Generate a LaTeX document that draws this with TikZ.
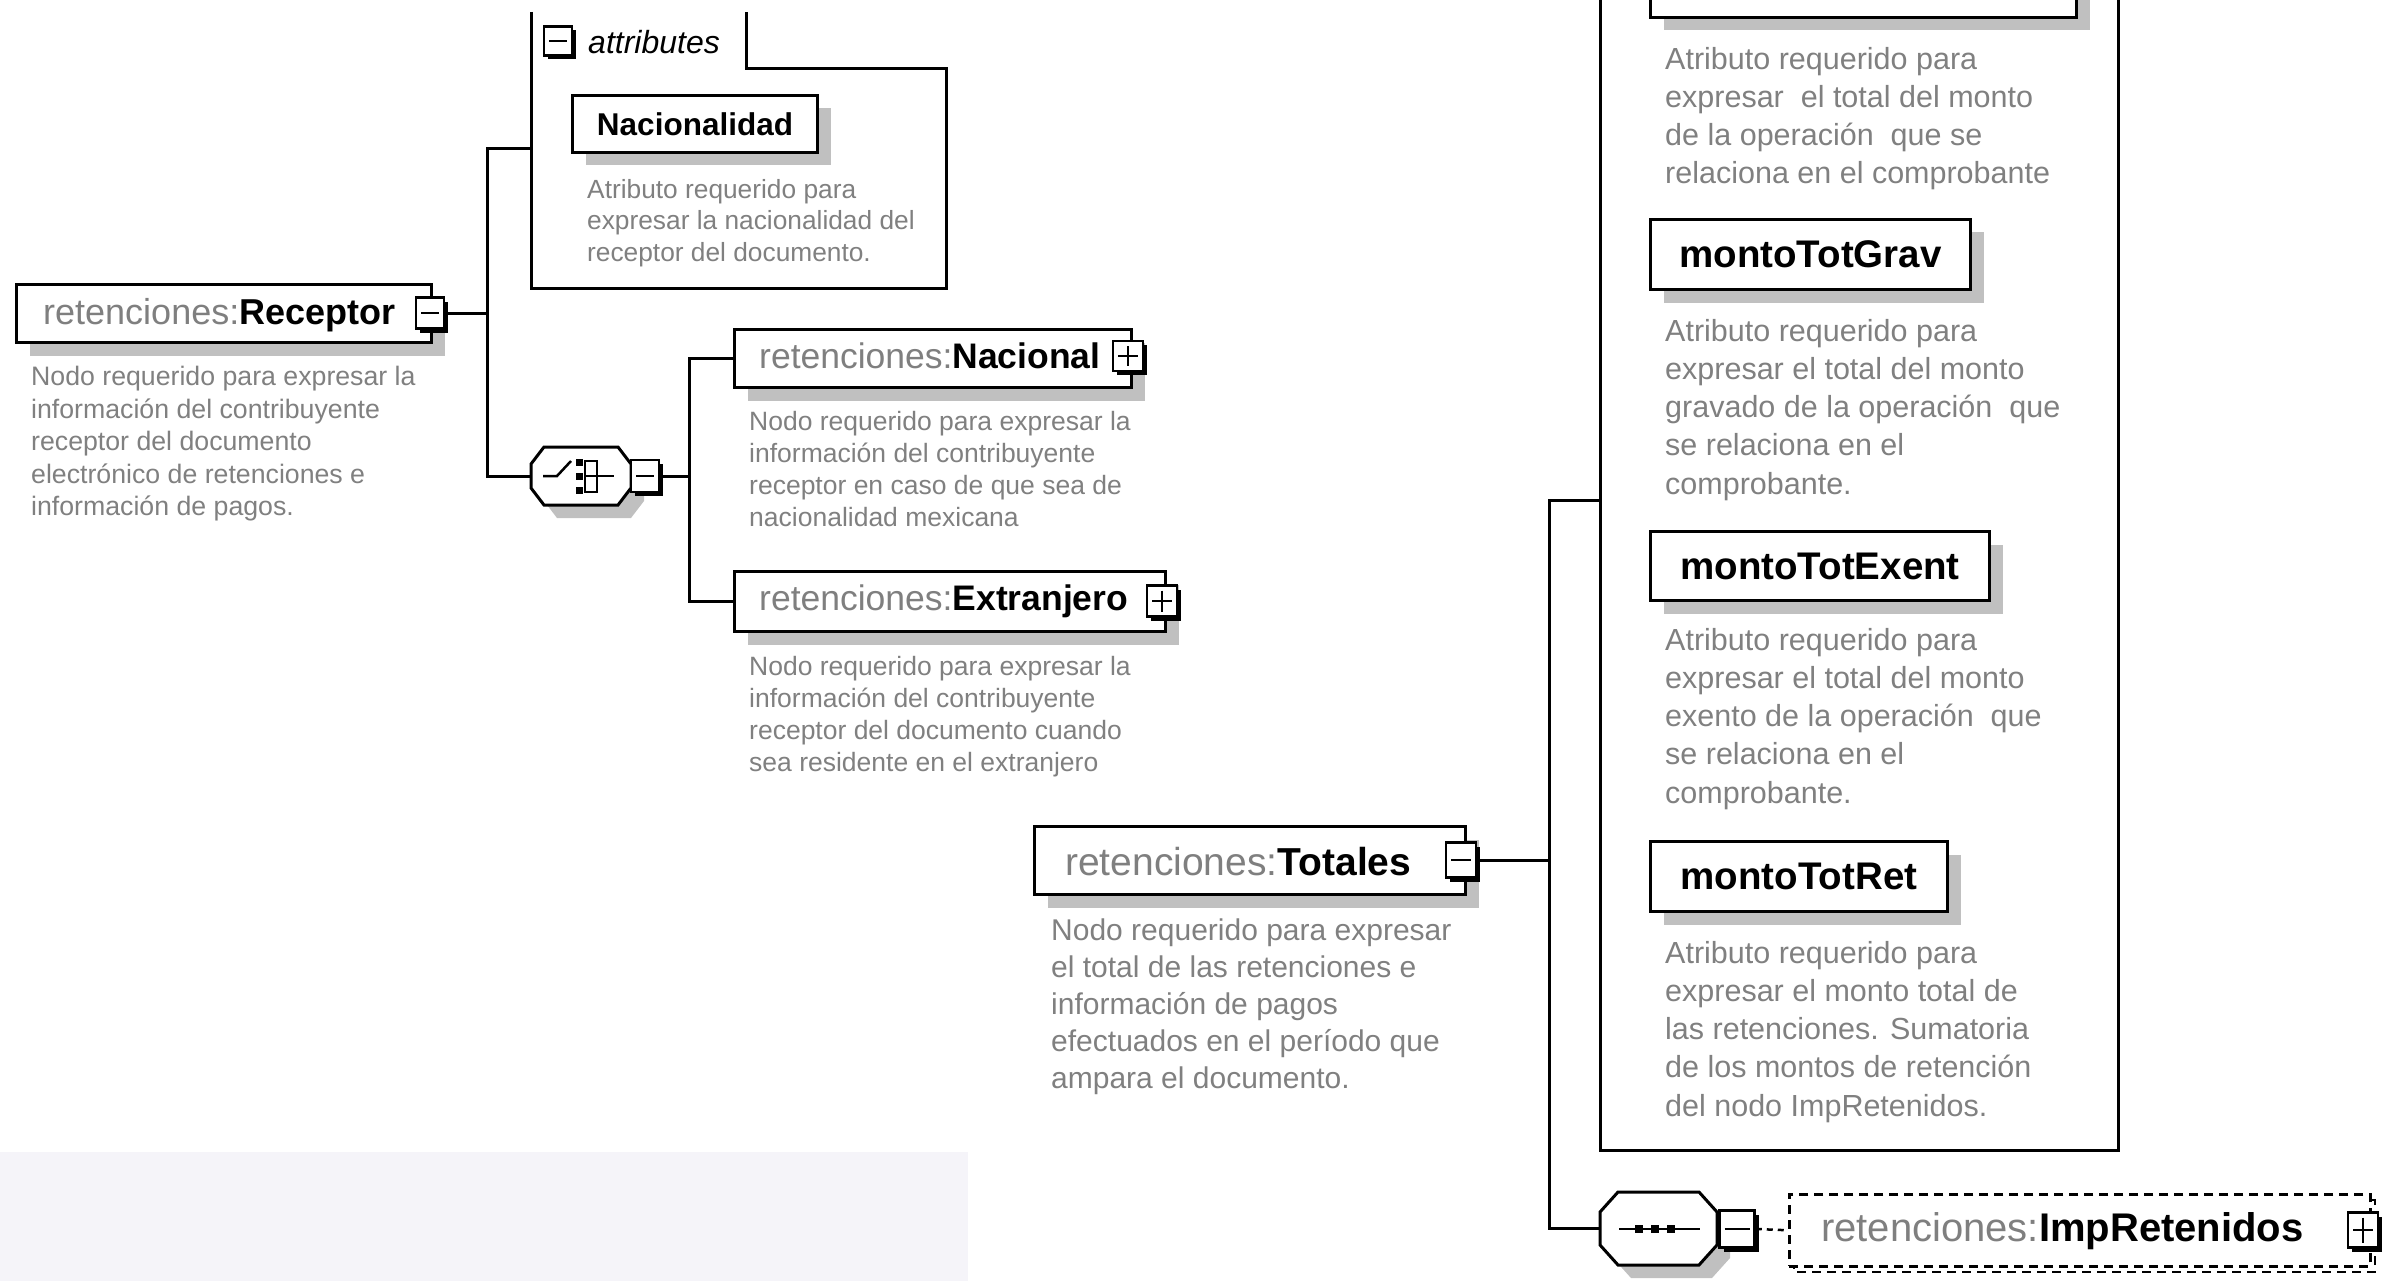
\documentclass[tikz,border=0pt]{standalone}
\usepackage{fontspec}
\setmainfont{Liberation Sans}
\usetikzlibrary{shadows,calc}
\definecolor{descgray}{HTML}{808080}
\definecolor{nsgray}{HTML}{7F7F7F}
\definecolor{shadowgray}{HTML}{C0C0C0}
\definecolor{panelgray}{HTML}{F5F4F9}
\newcommand{\fs}[2]{\fontsize{#1pt}{#2pt}\selectfont}
\newcommand{\nsp}{\textcolor{nsgray}{retenciones:}}
\newcommand{\octpath}[6]{(#1+#5,#2) -- (#1+#3-#5,#2) -- (#1+#3,#2+#6) -- (#1+#3,#2+#4-#6) -- (#1+#3-#5,#2+#4) -- (#1+#5,#2+#4) -- (#1,#2+#4-#6) -- (#1,#2+#6) -- cycle}
\begin{document}
\begin{tikzpicture}[x=1pt,y=-1pt,
  ln/.style={line width=3pt},
  elbox/.style={draw, line width=3pt, fill=white, anchor=north west, inner sep=0pt,
    drop shadow={shadow xshift=13pt, shadow yshift=-13pt, fill=shadowgray, opacity=1}},
  exp/.style={draw, line width=2.5pt, fill=white, inner sep=0pt,
    drop shadow={shadow xshift=4pt, shadow yshift=-4pt, fill=black, opacity=1}},
  minusbox/.style={exp, path picture={\draw[line width=2.5pt] ($(path picture bounding box.west)+(5,0)$) -- ($(path picture bounding box.east)+(-5,0)$);}},
  plusbox/.style={exp, path picture={\draw[line width=2.5pt] ($(path picture bounding box.west)+(5,0)$) -- ($(path picture bounding box.east)+(-5,0)$); \draw[line width=2.5pt] ($(path picture bounding box.north)+(0,5)$) -- ($(path picture bounding box.south)+(0,-5)$);}},
  nametext/.style={anchor=west, inner sep=0pt},
  desc/.style={anchor=north west, align=left, text=descgray, inner sep=0pt},
  ghost/.style={anchor=north west, inner sep=0pt, minimum width=#1},
]
\useasboundingbox (0,0) rectangle (2384,1281);
\clip (0,0) rectangle (2384,1281);
\fill[white] (0,0) rectangle (2384,1281);
\fill[panelgray] (0,1152) rectangle (968,1281);

% ---------- Receptor attributes container ----------
\draw[ln] (531,12) -- (531,288) -- (946,288) -- (946,69) -- (746,69) -- (746,12);
\node[minusbox, minimum width=28pt, minimum height=29pt] (tabexp) at (558,41) {};
\node[nametext, font=\fs{32}{36}\itshape] (tabtxt) at (588,42) {attributes};
\node[elbox, minimum width=245pt, minimum height=57pt, font=\fs{31.5}{36}\bfseries] (nacionalidad) at (571,94) {Nacionalidad};
\node[desc, font=\fs{26.3}{31.5}] (dnac) at (587,179) {Atributo requerido para\\expresar la nacionalidad del\\receptor del documento.};
\coordinate (attrA) at (531,149);

% ---------- Receptor ----------
\node[elbox, minimum width=415pt, minimum height=58pt] (receptor) at (15,283) {};
\node[nametext, font=\fs{36}{40}] (receptort) at (43,315) {\nsp\textbf{Receptor}};
\node[minusbox, minimum width=28pt, minimum height=31pt] (rexp) at (430,313) {};
\node[desc, font=\fs{26.7}{32.5}] (drec) at (31,366) {Nodo requerido para expresar la\\información del contribuyente\\receptor del documento\\electrónico de retenciones e\\información de pagos.};

% ---------- choice ----------
\fill[shadowgray, shift={(13,13)}] \octpath{531}{447}{100}{58}{13}{17};
\draw[ln, fill=white] \octpath{531}{447}{100}{58}{13}{17};
\node[ghost=100pt, minimum height=58pt] (choice) at (531,447) {};
\draw[line width=2.5pt] (543,476) -- (557,476) -- (571,461);
\fill (576,459) rectangle (583,466);
\fill (576,473) rectangle (583,480);
\fill (576,487) rectangle (583,494);
\draw[line width=2.5pt] (585,460) -- (585,493);
\draw[line width=2.5pt] (585,461) -- (597,461) -- (597,492) -- (585,492);
\draw[line width=2.5pt] (585,476) -- (614,476);
\node[minusbox, minimum width=28pt, minimum height=32pt] (cexp) at (645,476) {};

% ---------- Nacional / Extranjero ----------
\node[elbox, minimum width=397pt, minimum height=58pt] (nacional) at (733,328) {};
\node[nametext, font=\fs{35.5}{40}] (nacionalt) at (759,356) {\nsp\textbf{Nacional}};
\node[plusbox, minimum width=30pt, minimum height=30pt] (nexp) at (1128,356) {};
\node[desc, font=\fs{26.5}{32}] (dnacional) at (749,411) {Nodo requerido para expresar la\\información del contribuyente\\receptor en caso de que sea de\\nacionalidad mexicana};

\node[elbox, minimum width=431pt, minimum height=60pt] (extranjero) at (733,570) {};
\node[nametext, font=\fs{35.5}{40}] (extranjerot) at (759,601) {\nsp\textbf{Extranjero}};
\node[plusbox, minimum width=30pt, minimum height=31pt] (eexp) at (1162,601) {};
\node[desc, font=\fs{26.5}{32}] (dextranjero) at (749,656) {Nodo requerido para expresar la\\información del contribuyente\\receptor del documento cuando\\sea residente en el extranjero};

% ---------- Totales ----------
\node[elbox, minimum width=431pt, minimum height=68pt] (totales) at (1033,825) {};
\node[nametext, font=\fs{39}{44}] (totalest) at (1065,862) {\nsp\textbf{Totales}};
\node[minusbox, minimum width=30pt, minimum height=35pt] (texp) at (1461,860) {};
\node[desc, font=\fs{30}{37}] (dtotales) at (1051,919) {Nodo requerido para expresar\\el total de las retenciones e\\información de pagos\\efectuados en el período que\\ampara el documento.};

% ---------- Totales attributes container ----------
\draw[ln] (1600,-5) -- (1600,1150) -- (2118,1150) -- (2118,-5);
\coordinate (attrB) at (1600,500);
\node[elbox, minimum width=426pt, minimum height=60pt] (montoTotOper) at (1649,-44) {};
\node[desc, font=\fs{30.5}{38.2}] (doper) at (1665,47) {Atributo requerido para\\expresar~ el total del monto\\de la operación~ que se\\relaciona en el comprobante};
\node[elbox, minimum width=320pt, minimum height=70pt, font=\fs{38.5}{44}\bfseries] (grav) at (1649,218) {montoTotGrav};
\node[desc, font=\fs{30.5}{38.2}] (dgrav) at (1665,319) {Atributo requerido para\\expresar el total del monto\\gravado de la operación~ que\\se relaciona en el\\comprobante.};
\node[elbox, minimum width=339pt, minimum height=69pt, font=\fs{38.5}{44}\bfseries] (exent) at (1649,530) {montoTotExent};
\node[desc, font=\fs{30.5}{38.2}] (dexent) at (1665,628) {Atributo requerido para\\expresar el total del monto\\exento de la operación~ que\\se relaciona en el\\comprobante.};
\node[elbox, minimum width=297pt, minimum height=70pt, font=\fs{38.5}{44}\bfseries] (ret) at (1649,840) {montoTotRet};
\node[desc, font=\fs{30.5}{38.2}] (dret) at (1665,941) {Atributo requerido para\\expresar el monto total de\\las retenciones. Sumatoria\\de los montos de retención\\del nodo ImpRetenidos.};

% ---------- sequence ----------
\fill[shadowgray, shift={(13,13)}] \octpath{1600}{1192}{117}{73}{18}{20};
\draw[ln, fill=white] \octpath{1600}{1192}{117}{73}{18}{20};
\node[ghost=117pt, minimum height=73pt] (seq) at (1600,1192) {};
\draw[line width=2.5pt] (1619,1229) -- (1700,1229);
\fill (1635,1225) rectangle (1643,1233);
\fill (1651,1225) rectangle (1659,1233);
\fill (1667,1225) rectangle (1675,1233);
\node[minusbox, minimum width=35pt, minimum height=37pt] (sexp) at (1737,1229) {};

% ---------- ImpRetenidos ----------
\draw[line width=2.5pt, dash pattern=on 9pt off 6pt] (1794,1200) rectangle (2375,1272);
\node[anchor=north west, inner sep=0pt, minimum width=581pt, minimum height=72pt, fill=white, draw, line width=2.5pt, dash pattern=on 9pt off 6pt] (imp) at (1788,1193) {};
\node[nametext, font=\fs{40}{44}] (impt) at (1821,1231) {\nsp\textbf{ImpRetenidos}};
\node[plusbox, minimum width=30pt, minimum height=35pt] (iexp) at (2363,1230) {};

% ---------- connectors ----------
\coordinate (fa) at (487,0);
\coordinate (fb) at (689,0);
\coordinate (fc) at (1549,0);
\draw[ln] (rexp.east) -- (rexp.east -| fa);
\draw[ln] (attrA) -- (attrA -| fa) |- (choice.west);
\draw[ln] (cexp.east) -- (cexp.east -| fb);
\draw[ln] (nacional.west) -- (nacional.west -| fb) |- (extranjero.west);
\draw[ln] (texp.east) -- (texp.east -| fc);
\draw[ln] (attrB) -- (attrB -| fc) |- (seq.west);
\draw[line width=2.5pt, dash pattern=on 6pt off 5pt] (sexp.east) -- (imp.west);
\end{tikzpicture}
\end{document}
